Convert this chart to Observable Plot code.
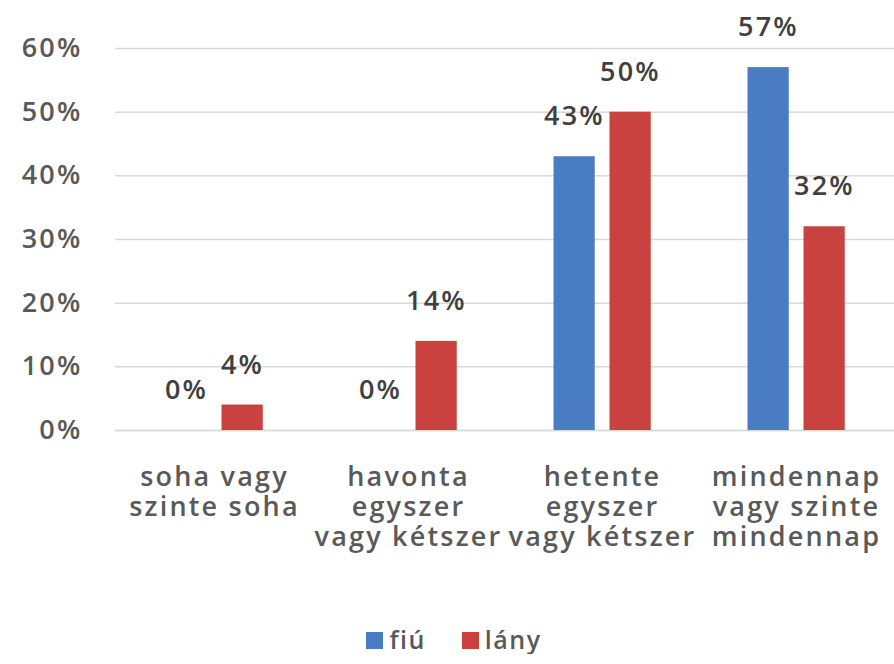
<!DOCTYPE html>
<html>
<head>
<meta charset="utf-8">
<script src="https://cdn.jsdelivr.net/npm/d3@7"></script>
<script src="https://cdn.jsdelivr.net/npm/@observablehq/plot@0.6"></script>
<style>
  html, body { margin: 0; padding: 0; background: #fff; }
  #chart { width: 894px; }
  .legend { display: flex; justify-content: center; gap: 36px; font-family: "Open Sans", sans-serif; font-weight: 600; font-size: 25px; line-height: 30px; color: #595959; letter-spacing: 1.5px; margin-top: 4px; margin-left: 14px; }
  .legend span.sw { display: inline-block; width: 17px; height: 17px; margin-right: 6px; vertical-align: middle; position: relative; top: -2px; }
</style>
</head>
<body>
<div id="chart"></div>
<script>
const categories = ["soha vagy\nszinte soha", "havonta\negyszer\nvagy kétszer", "hetente\negyszer\nvagy kétszer", "mindennap\nvagy szinte\nmindennap"];
const series = ["fiú", "lány"];
const fiuValues = [0, 0, 43, 57];
const lanyValues = [4, 14, 50, 32];
const yTicks = [0, 10, 20, 30, 40, 50, 60];
const colors = ["#4a7cc4", "#c9423f"];

const fiu = categories.map((c, i) => ({category: c, series: "fiú", value: fiuValues[i]}));
const lany = categories.map((c, i) => ({category: c, series: "lány", value: lanyValues[i]}));

const font = "Open Sans, sans-serif";

const chart = Plot.plot({
  width: 894,
  height: 620,
  marginLeft: 115,
  marginRight: 0,
  marginTop: 48,
  marginBottom: 190,
  style: {fontFamily: font, fontSize: "28px", fontWeight: 600, color: "#595959", background: "#fff", letterSpacing: "2.2px"},
  x: {domain: categories, padding: 0},
  y: {domain: [0, 60], ticks: yTicks},
  color: {domain: series, range: colors},
  marks: [
    Plot.gridY(yTicks, {stroke: "#d9d9d9", strokeOpacity: 1, strokeWidth: 1.5}),
    Plot.axisY(yTicks, {tickSize: 0, tickPadding: 33, tickFormat: d => d + "%", fill: "#595959", fontSize: 27, label: null}),
    Plot.axisX({tickSize: 0, tickPadding: 34, lineHeight: 1.12, fill: "#595959", fontSize: 27, label: null}),
    Plot.ruleY([0], {stroke: "#d9d9d9", strokeWidth: 1.5}),
    Plot.barY(fiu, {x: "category", y: "value", fill: "series", insetLeft: 48.5, insetRight: 104.25}),
    Plot.barY(lany, {x: "category", y: "value", fill: "series", insetLeft: 104.5, insetRight: 48.25}),
    Plot.text(fiu, {x: "category", y: "value", text: d => d.value + "%", dx: -28, dy: -40, fill: "#404040", fontSize: 27}),
    Plot.text(lany, {x: "category", y: "value", text: d => d.value + "%", dx: 28, dy: -40, fill: "#404040", fontSize: 27})
  ]
});
document.getElementById("chart").appendChild(chart);

const legend = document.createElement("div");
legend.className = "legend";
series.forEach((s, i) => {
  const item = document.createElement("div");
  item.innerHTML = `<span class="sw" style="background:${colors[i]}"></span>${s}`;
  legend.appendChild(item);
});
document.body.appendChild(legend);
</script>
</body>
</html>
